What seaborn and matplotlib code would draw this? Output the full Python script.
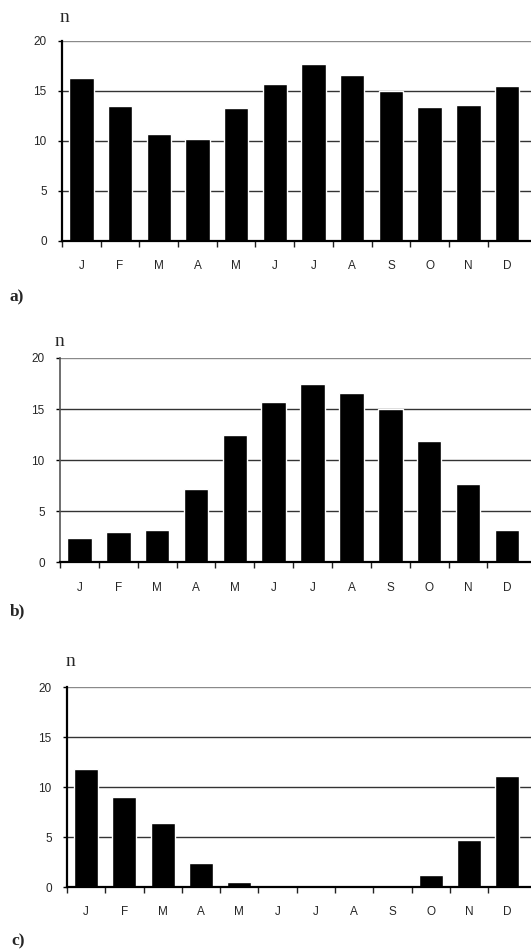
import numpy as np
import pandas as pd
import matplotlib
matplotlib.use("Agg")
import matplotlib.pyplot as plt
import seaborn as sns

months = ["Jan", "Feb", "Mar", "Apr", "May", "Jun",
          "Jul", "Aug", "Sep", "Oct", "Nov", "Dec"]
month_letters = ["J", "F", "M", "A", "M", "J", "J", "A", "S", "O", "N", "D"]
yticks = [0, 5, 10, 15, 20]

counts_a = [16.3, 13.5, 10.7, 10.2, 13.3, 15.7, 17.7, 16.6, 15.0, 13.4, 13.6, 15.5]
counts_b = [2.4, 3.0, 3.2, 7.2, 12.5, 15.7, 17.5, 16.6, 15.0, 11.9, 7.7, 3.2]
counts_c = [11.8, 9.0, 6.4, 2.4, 0.5, 0.0, 0.0, 0.0, 0.0, 1.2, 4.7, 11.1]
panel_labels = ["a)", "b)", "c)"]

sns.set_style("white")
plt.rcParams["font.family"] = ["Liberation Sans", "DejaVu Sans"]

W, H = 531, 951
fig = plt.figure(figsize=(W / 100, H / 100), dpi=100)

# axes boxes in pixels: left, top(y of 20), bottom(y of 0)
boxes = [(62, 40.7, 240.7), (60, 358, 562.3), (67, 687, 887)]
n_pos = [(64, 17), (59, 341), (70, 662)]
lab_pos = [(17, 297), (17, 611), (18, 941)]

for counts, (left, top, bot), npos, lpos, lab in zip(
        [counts_a, counts_b, counts_c], boxes, n_pos, lab_pos, panel_labels):
    ax = fig.add_axes([left / W, 1 - bot / H, (W - left) / W, (bot - top) / H])
    df = pd.DataFrame({"month": months, "n": counts})
    sns.barplot(data=df, x="month", y="n", order=months, color="black",
                width=0.63, edgecolor="white", linewidth=1.0, saturation=1,
                ax=ax, zorder=3)
    ax.set_xlim(-0.5, 11.62)
    ax.set_ylim(0, 20)
    ax.set_yticks(yticks)
    ax.set_yticklabels([str(v) for v in yticks], fontsize=8.5)
    ax.yaxis.grid(True)
    for v, gl in zip(yticks, ax.get_ygridlines()):
        gl.set_color("#8a8a8a" if v == 20 else "#333333")
        gl.set_linewidth(1.0)
        gl.set_zorder(1)
    ax.set_axisbelow(True)
    ax.set_xticks(range(12))
    ax.set_xticklabels(month_letters, fontsize=8.5)
    ax.set_xticks(np.arange(-0.5, 11, 1), minor=True)
    ax.tick_params(axis="x", which="major", length=0, pad=14)
    ax.tick_params(axis="x", which="minor", length=4, width=1, color="#222",
                   direction="out", bottom=True)
    ax.tick_params(axis="y", length=3, width=1, color="black", direction="out",
                   left=True, pad=8)
    ax.set_xlabel("")
    ax.set_ylabel("")
    for s in ["top", "right"]:
        ax.spines[s].set_visible(False)
    ax.spines["bottom"].set_color("black")
    ax.spines["bottom"].set_linewidth(1.6)
    ax.spines["bottom"].set_zorder(4)
    ax.spines["left"].set_color("black" if lab != "b)" else "#555555")
    ax.spines["left"].set_linewidth(1.6 if lab != "b)" else 1.2)
    ax.spines["left"].set_zorder(4)
    fig.text(npos[0] / W, 1 - npos[1] / H, "n", family="Liberation Serif",
             fontsize=14, ha="center", va="center")
    fig.text(lpos[0] / W, 1 - lpos[1] / H, lab, family="Liberation Serif",
             fontsize=12.5, fontweight="bold", ha="center", va="center")

fig.savefig("out.png", dpi=100, facecolor="white")
